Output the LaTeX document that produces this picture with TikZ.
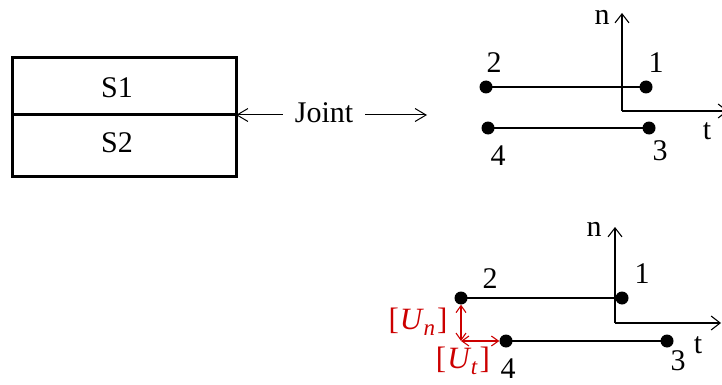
\documentclass[tikz,border=0pt]{standalone}
\usepackage{fontspec}
\setmainfont{Liberation Serif}
\usetikzlibrary{arrows.meta}
\newcommand\jointdisp[1]{[\kern1pt\textit{U}\kern-0.5pt\raisebox{-6pt}{\fontsize{23}{24}\selectfont\textit{#1}}\kern2pt]}
\begin{document}
\begin{tikzpicture}[x=1pt,y=-1pt,
  txt/.style={font=\fontsize{30}{32}\selectfont, inner sep=0pt},
  part/.style={draw, line width=3pt, minimum width=224pt, inner sep=0pt},
  dot/.style={circle, fill=black, minimum size=13pt, inner sep=0pt},
  seg/.style={line width=1.3pt},
  axis/.style={line width=1.1pt, -{Straight Barb[length=9pt,width=14pt,line width=1.1pt]}},
  jarrow/.style={line width=1pt, -{Straight Barb[length=11pt,width=13pt,line width=1pt]}},
  redarr/.style={draw=red!80!black, line width=1.1pt, {Straight Barb[length=7pt,width=10pt]}-{Straight Barb[length=7pt,width=10pt]}},
  redtxt/.style={text=red!80!black, font=\fontsize{31}{32}\selectfont, inner sep=0pt}]
\useasboundingbox (0,0) rectangle (722,385);
% solid parts
\node[part, minimum height=57pt] (s1) at (124,86.5) {};
\node[part, minimum height=61pt] (s2) at (124,145.5) {};
\node[txt] (s1l) at (117,88) {S1};
\node[txt] (s2l) at (117,143) {S2};
\coordinate (jtarget) at (236,115);
% Joint label and arrows
\node[txt, anchor=base, inner xsep=12pt] (joint) at (324,122) {Joint};
\coordinate (jend) at (427,115);
\draw[jarrow] (joint.west |- jtarget) -- (jtarget);
\draw[jarrow] (joint.east |- jtarget) -- (jend);
% top right: undeformed joint
\coordinate (o1) at (622,111);
\coordinate (n1) at (622,13);
\coordinate (t1) at (728,111);
\draw[axis] (o1) -- (n1);
\draw[axis] (o1) -- (t1);
\node[txt] (ln1) at (602,17) {n};
\node[txt] (lt1) at (707,131) {t};
\node[dot] (a2) at (486,87) {};
\node[dot] (a1) at (646,87) {};
\node[dot] (a4) at (488,128) {};
\node[dot] (a3) at (649,128) {};
\draw[seg] (a2.center) -- (a1.center);
\draw[seg] (a4.center) -- (a3.center);
\node[txt] (la2) at (494,63) {2};
\node[txt] (la1) at (656,63) {1};
\node[txt] (la4) at (498,156) {4};
\node[txt] (la3) at (660,151) {3};
% bottom right: deformed joint
\coordinate (o2) at (615,323);
\coordinate (n2) at (615,227);
\coordinate (t2) at (721,323);
\draw[axis] (o2) -- (n2);
\draw[axis] (o2) -- (t2);
\node[txt] (ln2) at (594,229) {n};
\node[txt] (lt2) at (698,345) {t};
\node[dot] (b2) at (461,298) {};
\node[dot] (b1) at (622,298) {};
\node[dot] (b4) at (506,341) {};
\node[dot] (b3) at (667,341) {};
\draw[seg] (b2.center) -- (b1.center);
\draw[seg] (b4.center) -- (b3.center);
\node[txt] (lb2) at (490,279) {2};
\node[txt] (lb1) at (642,274) {1};
\node[txt] (lb4) at (508,369) {4};
\node[txt] (lb3) at (678,361) {3};
% relative displacements
\coordinate (cu) at (b2.center |- b4.center);
\draw[redarr] (b2.south) -- (cu);
\draw[redarr] (cu) -- (b4.west);
\node[redtxt] (un) at (418,322) {\jointdisp{n}};
\node[redtxt] (ut) at (463,361) {\jointdisp{t}};
\end{tikzpicture}
\end{document}
